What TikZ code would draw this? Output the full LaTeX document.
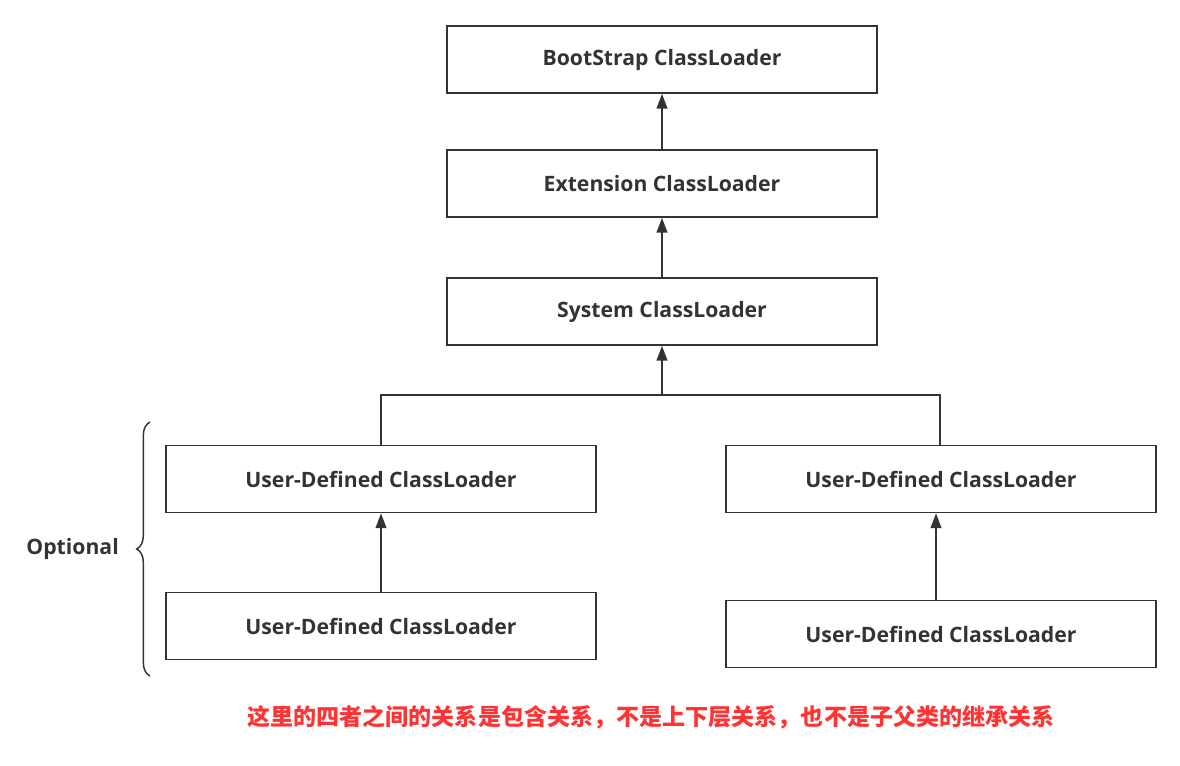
\documentclass[tikz,border=0pt]{standalone}
\usepackage{fontspec}
\setmainfont{Open Sans}
\newfontfamily\cjk{Noto Sans CJK SC}
\usetikzlibrary{arrows.meta,decorations.pathreplacing}
\definecolor{ink}{HTML}{333333}
\definecolor{note}{HTML}{FF3333}
\tikzset{
  loader/.style={draw=ink,line width=1.3pt,minimum width=322.5pt,minimum height=50.25pt,
    text=ink,font=\bfseries\fontsize{15.9}{18}\selectfont,inner sep=0pt},
  link/.style={draw=ink,line width=1.3pt},
  up/.style={link,-{Triangle[length=11pt,width=8pt]}}
}
\begin{document}
\begin{tikzpicture}[x=0.75pt,y=-0.75pt]
  \useasboundingbox (0,0) rectangle (1180,766);
  \node[loader] (boot) at (662,59.5) {BootStrap ClassLoader};
  \node[loader] (ext) at (662,183.5) {Extension ClassLoader};
  \node[loader] (sys) at (662,311.5) {System ClassLoader};
  \node[loader] (userA) at (381,479) {User-Defined ClassLoader};
  \node[loader] (userB) at (941,479) {User-Defined ClassLoader};
  \node[loader] (userC) at (381,626) {User-Defined ClassLoader};
  \node[loader] (userD) at (941,634) {User-Defined ClassLoader};
  \coordinate (join) at (662,395);
  % arrows
  \draw[up] (ext) -- (boot);
  \draw[up] (sys) -- (ext);
  \draw[up] (join) -- (sys);
  \draw[link] (userA.north) |- (join) -| ([xshift=-0.75pt]userB.north);
  \draw[up] (userC) -- (userA);
  \draw[up] ([xshift=-3.75pt]userD.north) -- ([xshift=-3.75pt]userB.south);
  % brace
  \draw[ink,line width=1.1pt,decorate,decoration={brace,amplitude=10pt}] (150,676) -- (150,422);
  \node[anchor=east,text=ink,font=\bfseries\fontsize{15.9}{18}\selectfont,inner sep=0pt] (opt) at (119,549) {Optional};
  \node[text=note,font=\cjk\bfseries\fontsize{17.3}{19}\selectfont,inner sep=0pt] (remark) at (651,717)
    {这里的四者之间的关系是包含关系，不是上下层关系，也不是子父类的继承关系};
\end{tikzpicture}
\end{document}
